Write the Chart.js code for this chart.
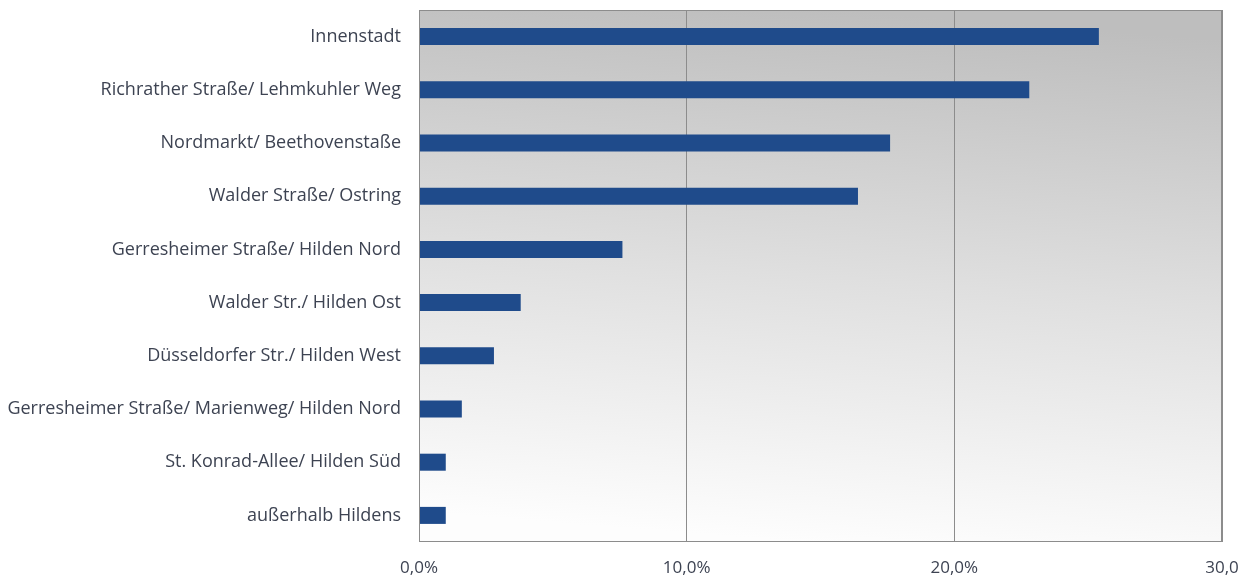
<!DOCTYPE html>
<html>
<head>
<meta charset="utf-8">
<script src="https://cdn.jsdelivr.net/npm/chart.js@4/dist/chart.umd.min.js"></script>
<style>
  html, body { margin: 0; padding: 0; background: #ffffff; overflow: hidden; }
  #wrap { width: 1247px; height: 582px; position: relative; }
</style>
</head>
<body>
<div id="wrap"><canvas id="c" width="1247" height="582"></canvas></div>
<script>
const categories = [
  "Innenstadt",
  "Richrather Straße/ Lehmkuhler Weg",
  "Nordmarkt/ Beethovenstaße",
  "Walder Straße/ Ostring",
  "Gerresheimer Straße/ Hilden Nord",
  "Walder Str./ Hilden Ost",
  "Düsseldorfer Str./ Hilden West",
  "Gerresheimer Straße/ Marienweg/ Hilden Nord",
  "St. Konrad-Allee/ Hilden Süd",
  "außerhalb Hildens"
];
const shares = [25.4, 22.8, 17.6, 16.4, 7.6, 3.8, 2.8, 1.6, 1.0, 1.0];
const tickValues = [0, 10, 20, 30];
const tickLabels = ["0,0%", "10,0%", "20,0%", "30,0"];

const bgPlugin = {
  id: 'bg',
  beforeDraw(chart) {
    const { ctx, chartArea: a } = chart;
    const cx = a.left + a.width / 2;
    const g = ctx.createLinearGradient(cx + 21, a.top, cx - 21, a.bottom);
    g.addColorStop(0, '#bebebe');
    g.addColorStop(0.5, '#dfdfdf');
    g.addColorStop(0.75, '#eeeeee');
    g.addColorStop(1, '#fdfdfd');
    ctx.save();
    ctx.fillStyle = g;
    ctx.fillRect(a.left, a.top, a.width, a.height);
    ctx.restore();
  },
  afterDraw(chart) {
    const { ctx, chartArea: a } = chart;
    ctx.save();
    ctx.strokeStyle = '#8c8c8c';
    ctx.lineWidth = 1;
    ctx.strokeRect(Math.round(a.left) + 0.5, Math.round(a.top) + 0.5, Math.round(a.width) - 1, Math.round(a.height) - 1);
    ctx.restore();
  }
};

new Chart(document.getElementById('c'), {
  type: 'bar',
  data: {
    labels: categories,
    datasets: [{
      data: shares,
      backgroundColor: '#1f4b8b',
      borderWidth: 0,
      barPercentage: 0.32,
      categoryPercentage: 1.0
    }]
  },
  options: {
    indexAxis: 'y',
    responsive: false,
    animation: false,
    devicePixelRatio: 1,
    layout: { padding: { top: 10, right: 25, left: 0, bottom: 0 } },
    plugins: { legend: { display: false }, tooltip: { enabled: false } },
    scales: {
      x: {
        min: 0, max: 30,
        afterBuildTicks(scale) { scale.ticks = tickValues.map(v => ({ value: v })); },
        afterFit(scale) { scale.height = 40; scale.paddingLeft = 0; scale.paddingRight = 0; },
        ticks: {
          padding: 16,
          color: '#3d4352',
          font: { family: 'Open Sans', size: 17 },
          maxRotation: 0,
          callback(v) { return tickLabels[tickValues.indexOf(v)]; }
        },
        grid: { color: '#8c8c8c', lineWidth: 1, drawTicks: false },
        border: { display: false }
      },
      y: {
        afterFit(scale) { scale.width = 419; scale.paddingTop = 0; scale.paddingBottom = 0; },
        ticks: {
          padding: 18,
          color: '#3d4352',
          font: { family: 'Open Sans', size: 18 }
        },
        grid: { display: false, drawTicks: false },
        border: { display: false }
      }
    }
  },
  plugins: [bgPlugin]
});
</script>
</body>
</html>
